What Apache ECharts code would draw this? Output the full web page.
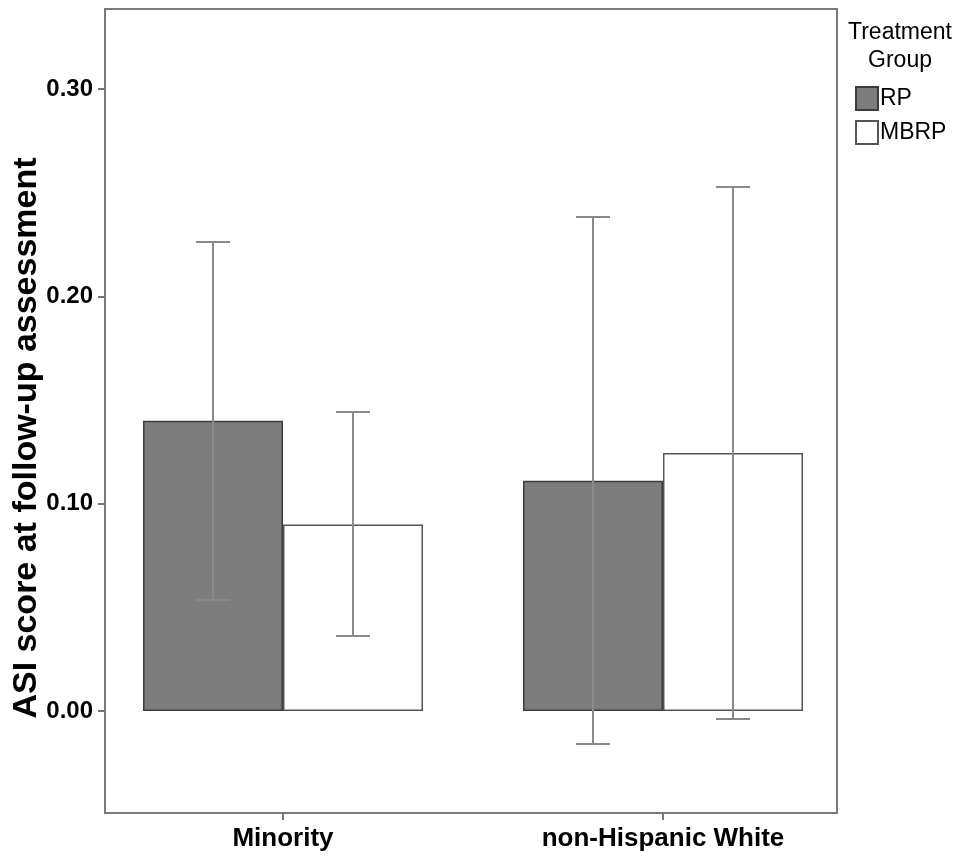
<!DOCTYPE html>
<html>
<head>
<meta charset="utf-8">
<script src="https://cdn.jsdelivr.net/npm/echarts@6/dist/echarts.min.js"></script>
<style>html,body{margin:0;padding:0;background:#fff;}#c{width:971px;height:861px;}</style>
</head>
<body>
<div id="c"></div>
<script>
var categories = ['Minority', 'non-Hispanic White'];
var seriesNames = ['RP', 'MBRP'];
var rpMean = [0.140, 0.111];
var rpLow = [0.0535, -0.0159];
var rpHigh = [0.2262, 0.2383];
var mbrpMean = [0.090, 0.1245];
var mbrpLow = [0.0362, -0.0039];
var mbrpHigh = [0.1442, 0.2528];
var yTicks = [0, 0.1, 0.2, 0.3];

var FONT = '"Liberation Sans", Arial, sans-serif';
var BAR_W = 140;

var chart = echarts.init(document.getElementById('c'), null, {renderer: 'canvas'});

function errSeries(low, high, dir) {
  var data = categories.map(function (c, i) { return [i, low[i], high[i]]; });
  return {
    type: 'custom',
    z: 10,
    silent: true,
    data: data,
    renderItem: function (params, api) {
      var i = api.value(0);
      var pLow = api.coord([i, api.value(1)]);
      var pHigh = api.coord([i, api.value(2)]);
      var x = pLow[0] + dir * BAR_W / 2;
      var cap = 17;
      var st = {stroke: '#8a8a8a', lineWidth: 2};
      return {
        type: 'group',
        children: [
          {type: 'line', shape: {x1: x, y1: pLow[1], x2: x, y2: pHigh[1]}, style: st},
          {type: 'line', shape: {x1: x - cap, y1: pLow[1], x2: x + cap, y2: pLow[1]}, style: st},
          {type: 'line', shape: {x1: x - cap, y1: pHigh[1], x2: x + cap, y2: pHigh[1]}, style: st}
        ]
      };
    }
  };
}

var option = {
  backgroundColor: '#fff',
  animation: false,
  grid: {left: 93, right: 118, top: 9, bottom: 48, containLabel: false},
  legend: {
    orient: 'vertical',
    left: 850,
    top: 81,
    itemWidth: 22,
    itemHeight: 23,
    itemGap: 9,
    icon: 'rect',
    data: seriesNames,
    textStyle: {fontFamily: FONT, fontSize: 23, color: '#000', padding: [0, 0, 0, -3]}
  },
  xAxis: {
    type: 'category',
    data: categories,
    axisLine: {show: false, onZero: false},
    axisTick: {show: true, alignWithLabel: true, length: 7, lineStyle: {color: '#777', width: 2}},
    axisLabel: {fontFamily: FONT, fontSize: 26, fontWeight: 'bold', color: '#000', margin: 13}
  },
  yAxis: {
    type: 'value',
    min: -0.0492,
    max: 0.3386,
    offset: -12,
    splitLine: {show: false},
    axisLine: {show: false},
    axisTick: {show: true, length: 7, customValues: yTicks, lineStyle: {color: '#777', width: 2}},
    axisLabel: {
      customValues: yTicks,
      fontFamily: FONT, fontSize: 24, fontWeight: 'bold', color: '#000', margin: 12,
      formatter: function (v) { return v.toFixed(2); }
    }
  },
  graphic: [
    {type: 'rect', shape: {x: 105, y: 9, width: 732, height: 804}, style: {fill: 'none', stroke: '#7a7a7a', lineWidth: 2}, z: 100, silent: true},
    {type: 'text', x: 27, y: 438, rotation: Math.PI / 2, style: {text: 'ASI score at follow-up assessment', fontFamily: FONT, fontSize: 34, fontWeight: 'bold', fill: '#000', align: 'center', verticalAlign: 'middle'}},
    {type: 'text', x: 900, y: 19, style: {text: 'Treatment\nGroup', fontFamily: FONT, fontSize: 23, fill: '#000', align: 'center', verticalAlign: 'top', lineHeight: 28}}
  ],
  series: [
    {
      name: 'RP', type: 'bar', data: rpMean, barWidth: BAR_W, barGap: '0%',
      itemStyle: {color: '#7d7d7d', borderColor: '#3c3c3c', borderWidth: 1.5}
    },
    {
      name: 'MBRP', type: 'bar', data: mbrpMean, barWidth: BAR_W, barGap: '0%',
      itemStyle: {color: '#ffffff', borderColor: '#555', borderWidth: 1.5}
    },
    errSeries(rpLow, rpHigh, -1),
    errSeries(mbrpLow, mbrpHigh, 1)
  ]
};
chart.setOption(option);
</script>
</body>
</html>
